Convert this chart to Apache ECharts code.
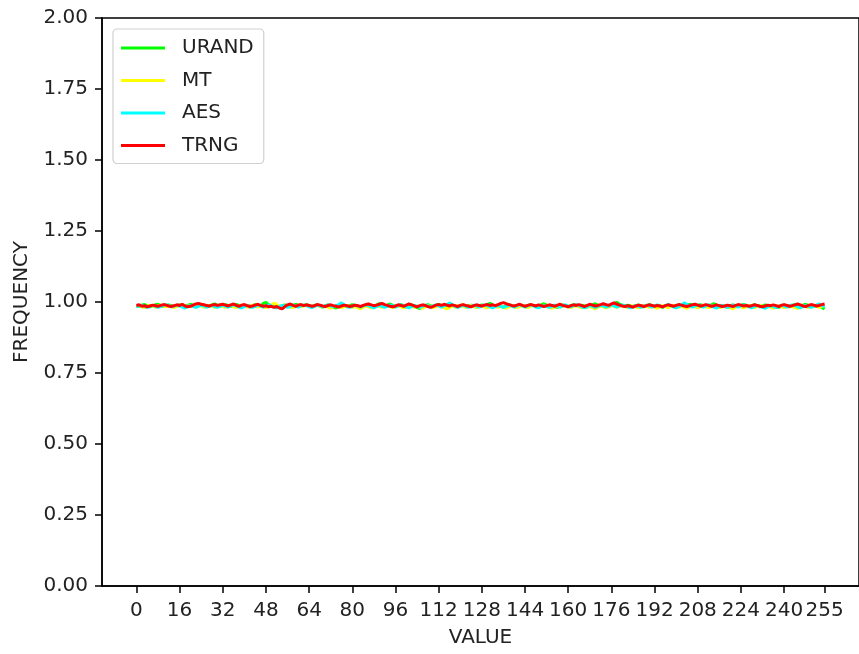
<!DOCTYPE html>
<html>
<head>
<meta charset="utf-8">
<script src="https://cdn.jsdelivr.net/npm/echarts@6/dist/echarts.min.js"></script>
<style>
html,body{margin:0;padding:0;background:#fff;}
#freq{width:859px;height:654px;}
</style>
</head>
<body>
<div id="freq"></div>
<script>
// byte values 0..255
var values = [];
for (var v = 0; v < 256; v++) values.push(v);

var xTicks = [0,16,32,48,64,80,96,112,128,144,160,176,192,208,224,240,255];

var urand = [
0.986,0.984,0.989,0.991,0.987,0.983,0.985,0.990,0.992,0.988,0.984,0.986,0.990,0.987,0.983,0.986,
0.990,0.987,0.984,0.988,0.992,0.989,0.985,0.987,0.991,0.988,0.983,0.986,0.990,0.993,0.989,0.985,
0.988,0.991,0.987,0.984,0.988,0.992,0.988,0.985,0.989,0.986,0.982,0.987,0.991,0.988,0.984,0.995,
0.999,0.991,0.986,0.989,0.985,0.981,0.986,0.990,0.987,0.983,0.988,0.992,0.989,0.985,0.988,0.991,
0.987,0.984,0.988,0.991,0.986,0.983,0.987,0.990,0.986,0.982,0.979,0.985,0.989,0.986,0.983,0.987,
0.991,0.988,0.984,0.979,0.985,0.989,0.992,0.988,0.985,0.990,0.994,0.990,0.986,0.989,0.993,0.988,
0.984,0.987,0.991,0.987,0.983,0.986,0.990,0.985,0.980,0.977,0.983,0.988,0.991,0.987,0.984,0.988,
0.992,0.988,0.985,0.989,0.993,0.990,0.986,0.982,0.986,0.990,0.987,0.984,0.989,0.985,0.981,0.986,
0.990,0.987,0.991,0.995,0.990,0.986,0.989,0.985,0.982,0.987,0.991,0.988,0.984,0.987,0.991,0.988,
0.984,0.988,0.991,0.987,0.983,0.986,0.990,0.994,0.989,0.985,0.988,0.984,0.981,0.986,0.990,0.987,
0.983,0.987,0.991,0.988,0.985,0.989,0.986,0.982,0.987,0.990,0.994,0.989,0.986,0.990,0.987,0.983,
0.988,0.992,0.999,0.993,0.988,0.985,0.989,0.986,0.982,0.986,0.990,0.987,0.983,0.987,0.991,0.988,
0.984,0.988,0.985,0.981,0.986,0.990,0.987,0.984,0.988,0.991,0.987,0.984,0.988,0.992,0.989,0.985,
0.988,0.991,0.987,0.983,0.987,0.990,0.994,0.989,0.985,0.988,0.985,0.981,0.986,0.990,0.987,0.984,
0.988,0.992,0.988,0.984,0.987,0.991,0.987,0.983,0.986,0.990,0.987,0.984,0.988,0.985,0.981,0.986,
0.990,0.987,0.983,0.987,0.991,0.988,0.985,0.989,0.992,0.988,0.985,0.988,0.984,0.987,0.981,0.975
];

var mt = [
0.984,0.987,0.983,0.980,0.985,0.988,0.985,0.982,0.986,0.989,0.986,0.983,0.987,0.984,0.980,0.985,
0.988,0.985,0.981,0.985,0.988,0.984,0.987,0.990,0.986,0.982,0.985,0.988,0.985,0.981,0.984,0.988,
0.985,0.981,0.984,0.987,0.983,0.980,0.985,0.989,0.986,0.982,0.986,0.989,0.985,0.982,0.986,0.983,
0.980,0.984,0.988,0.996,0.990,0.985,0.981,0.985,0.988,0.984,0.980,0.984,0.987,0.983,0.986,0.989,
0.985,0.981,0.985,0.988,0.984,0.981,0.985,0.982,0.978,0.983,0.987,0.984,0.980,0.984,0.988,0.985,
0.981,0.984,0.980,0.976,0.982,0.986,0.983,0.979,0.983,0.987,0.984,0.981,0.985,0.988,0.984,0.980,
0.984,0.987,0.983,0.979,0.983,0.987,0.985,0.981,0.985,0.982,0.978,0.983,0.987,0.984,0.980,0.984,
0.988,0.984,0.980,0.976,0.981,0.985,0.982,0.986,0.989,0.985,0.981,0.984,0.988,0.985,0.981,0.984,
0.987,0.983,0.979,0.984,0.988,0.985,0.981,0.985,0.982,0.978,0.983,0.987,0.984,0.980,0.984,0.987,
0.983,0.980,0.985,0.988,0.984,0.981,0.985,0.989,0.985,0.981,0.978,0.983,0.986,0.982,0.985,0.988,
0.984,0.980,0.984,0.987,0.983,0.979,0.983,0.987,0.984,0.980,0.976,0.982,0.986,0.983,0.979,0.984,
0.988,0.985,0.981,0.985,0.988,0.984,0.980,0.984,0.987,0.983,0.979,0.983,0.987,0.984,0.981,0.985,
0.982,0.978,0.983,0.987,0.984,0.980,0.984,0.988,0.985,0.981,0.985,0.982,0.978,0.983,0.986,0.983,
0.979,0.984,0.988,0.984,0.980,0.984,0.987,0.983,0.979,0.983,0.987,0.984,0.980,0.976,0.982,0.986,
0.983,0.979,0.983,0.987,0.984,0.980,0.984,0.988,0.985,0.981,0.985,0.982,0.978,0.983,0.987,0.984,
0.980,0.984,0.988,0.984,0.980,0.977,0.983,0.987,0.984,0.980,0.984,0.988,0.985,0.981,0.985,0.988
];

var aes = [
0.983,0.986,0.989,0.985,0.981,0.984,0.988,0.985,0.981,0.984,0.988,0.991,0.987,0.983,0.986,0.989,
0.986,0.982,0.979,0.984,0.988,0.985,0.981,0.985,0.989,0.986,0.982,0.985,0.988,0.984,0.981,0.986,
0.989,0.985,0.982,0.986,0.990,0.986,0.982,0.979,0.984,0.988,0.985,0.981,0.985,0.989,0.986,0.982,
0.986,0.990,0.986,0.982,0.979,0.984,0.988,0.985,0.981,0.985,0.989,0.986,0.982,0.986,0.990,0.987,
0.983,0.980,0.985,0.989,0.986,0.982,0.986,0.990,0.986,0.983,0.987,0.991,0.997,0.990,0.985,0.981,
0.985,0.989,0.986,0.982,0.986,0.990,0.987,0.983,0.979,0.984,0.988,0.985,0.981,0.985,0.989,0.986,
0.982,0.986,0.990,0.986,0.983,0.979,0.984,0.988,0.985,0.981,0.985,0.989,0.986,0.982,0.986,0.990,
0.986,0.982,0.986,0.990,0.996,0.990,0.985,0.981,0.985,0.988,0.985,0.981,0.985,0.989,0.986,0.982,
0.986,0.990,0.987,0.983,0.979,0.984,0.988,0.985,0.981,0.985,0.989,0.986,0.982,0.986,0.990,0.986,
0.982,0.986,0.990,0.987,0.983,0.979,0.984,0.988,0.985,0.981,0.985,0.989,0.986,0.982,0.986,0.990,
0.986,0.983,0.987,0.991,0.987,0.983,0.979,0.984,0.988,0.985,0.981,0.985,0.989,0.986,0.982,0.986,
0.990,0.986,0.982,0.986,0.990,0.987,0.983,0.979,0.984,0.988,0.985,0.981,0.985,0.989,0.986,0.982,
0.986,0.990,0.986,0.983,0.987,0.991,0.987,0.983,0.979,0.984,0.988,0.997,0.991,0.986,0.982,0.986,
0.989,0.986,0.982,0.986,0.990,0.986,0.982,0.979,0.984,0.988,0.985,0.981,0.985,0.989,0.986,0.982,
0.986,0.990,0.987,0.983,0.979,0.984,0.988,0.985,0.981,0.978,0.983,0.987,0.984,0.980,0.985,0.989,
0.986,0.982,0.986,0.990,0.987,0.983,0.979,0.984,0.988,0.985,0.981,0.985,0.989,0.993,0.988,0.984
];

var trng = [
0.988,0.990,0.985,0.987,0.983,0.986,0.989,0.987,0.985,0.988,0.991,0.989,0.986,0.984,0.987,0.990,
0.988,0.992,0.986,0.983,0.985,0.989,0.993,0.995,0.992,0.990,0.988,0.986,0.989,0.991,0.988,0.990,
0.992,0.989,0.986,0.990,0.993,0.988,0.985,0.989,0.991,0.987,0.984,0.986,0.989,0.992,0.988,0.985,
0.987,0.983,0.985,0.981,0.984,0.979,0.976,0.984,0.990,0.993,0.988,0.985,0.989,0.991,0.987,0.990,
0.988,0.985,0.987,0.991,0.989,0.986,0.984,0.988,0.990,0.987,0.985,0.982,0.986,0.989,0.987,0.984,
0.986,0.989,0.987,0.984,0.988,0.991,0.993,0.990,0.987,0.989,0.992,0.995,0.991,0.988,0.985,0.983,
0.986,0.990,0.988,0.985,0.989,0.993,0.990,0.986,0.983,0.987,0.990,0.988,0.984,0.981,0.985,0.989,
0.991,0.988,0.992,0.989,0.986,0.990,0.987,0.984,0.988,0.991,0.988,0.986,0.983,0.987,0.990,0.988,
0.986,0.989,0.991,0.988,0.990,0.987,0.991,0.995,0.998,0.994,0.991,0.988,0.986,0.989,0.992,0.988,
0.985,0.988,0.991,0.989,0.986,0.990,0.987,0.984,0.987,0.990,0.988,0.985,0.989,0.992,0.988,0.986,
0.983,0.987,0.990,0.988,0.991,0.987,0.984,0.988,0.992,0.989,0.986,0.988,0.991,0.994,0.991,0.988,
0.993,0.997,0.992,0.989,0.986,0.984,0.987,0.985,0.982,0.986,0.989,0.987,0.984,0.987,0.990,0.988,
0.985,0.988,0.986,0.983,0.987,0.990,0.988,0.985,0.988,0.991,0.989,0.986,0.984,0.987,0.990,0.992,
0.989,0.986,0.988,0.991,0.988,0.985,0.987,0.990,0.987,0.984,0.986,0.989,0.987,0.984,0.988,0.991,
0.989,0.986,0.988,0.985,0.987,0.990,0.988,0.985,0.983,0.986,0.989,0.987,0.990,0.987,0.984,0.988,
0.991,0.988,0.985,0.987,0.990,0.993,0.990,0.986,0.984,0.988,0.991,0.989,0.986,0.988,0.991,0.993
];

function pairs(arr){
  return arr.map(function(y, i){ return [values[i], y]; });
}

var chart = echarts.init(document.getElementById('freq'));
var font = 'DejaVu Sans';
var fs = 20;

function mkLine(name, color, data){
  return {
    name: name, type: 'line', data: pairs(data),
    symbol: 'none', showSymbol: false, animation: false,
    lineStyle: {color: color, width: 3},
    itemStyle: {color: color}
  };
}

chart.setOption({
  backgroundColor: '#fff',
  textStyle: {fontFamily: font},
  grid: {left: 102, right: -11, top: 18, bottom: 68, show: true,
    borderColor: '#000', borderWidth: 1.5, backgroundColor: 'transparent'},
  legend: {
    orient: 'vertical', left: 113, top: 29,
    icon: 'rect', itemWidth: 44, itemHeight: 3, itemGap: 12.5,
    padding: [9, 10, 8, 8],
    backgroundColor: 'rgba(255,255,255,0.8)',
    borderColor: '#d0d0d0', borderWidth: 1.2, borderRadius: 4,
    textStyle: {fontFamily: font, fontSize: fs, color: '#222', padding: [0,0,0,12]},
    data: ['URAND', 'MT', 'AES', 'TRNG']
  },
  xAxis: {
    type: 'value', min: -12.75, max: 267.75,
    name: 'VALUE', nameLocation: 'middle', nameGap: 42,
    nameTextStyle: {fontFamily: font, fontSize: fs, color: '#222'},
    axisLine: {show: true, onZero: false, lineStyle: {color: '#000', width: 1.5}},
    axisTick: {show: true, length: 7, lineStyle: {color: '#000', width: 1.5}, customValues: xTicks},
    axisLabel: {fontFamily: font, fontSize: fs, color: '#222', margin: 15, customValues: xTicks},
    splitLine: {show: false}
  },
  yAxis: {
    type: 'value', min: 0, max: 2, interval: 0.25,
    name: 'FREQUENCY', nameLocation: 'middle', nameGap: 70,
    nameTextStyle: {fontFamily: font, fontSize: fs, color: '#222'},
    axisLine: {show: true, onZero: false, lineStyle: {color: '#000', width: 1.5}},
    axisTick: {show: true, length: 7, lineStyle: {color: '#000', width: 1.5}},
    axisLabel: {fontFamily: font, fontSize: fs, color: '#222', margin: 14,
      formatter: function(v){ return v.toFixed(2); }},
    splitLine: {show: false}
  },
  series: [
    mkLine('URAND', '#00ff00', urand),
    mkLine('MT', '#ffff00', mt),
    mkLine('AES', '#00ffff', aes),
    mkLine('TRNG', '#ff0000', trng)
  ]
});
</script>
</body>
</html>
